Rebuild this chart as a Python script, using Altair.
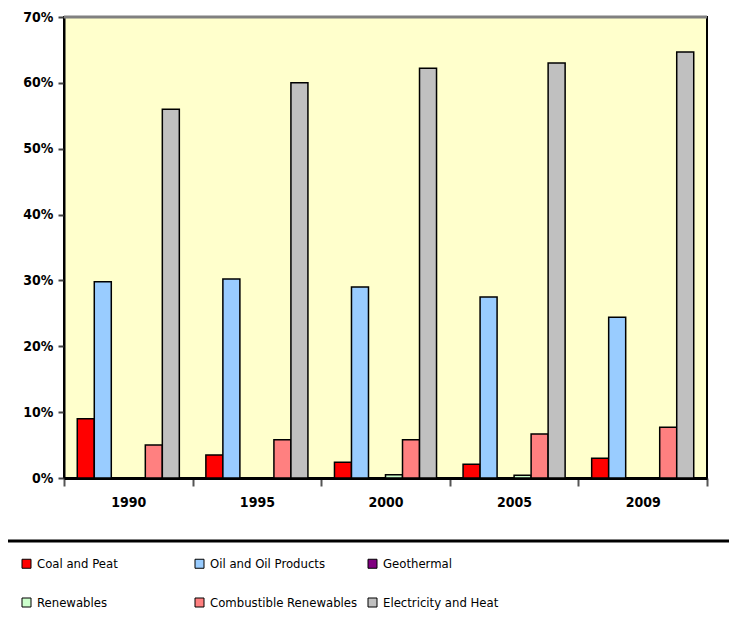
import altair as alt
import pandas as pd

years = ["1990", "1995", "2000", "2005", "2009"]
categories = ["Coal and Peat", "Oil and Oil Products", "Geothermal",
              "Renewables", "Combustible Renewables", "Electricity and Heat"]
coal = [9.0, 3.5, 2.4, 2.1, 3.0]
oil = [29.8, 30.2, 29.0, 27.5, 24.4]
geothermal = [0.0, 0.0, 0.0, 0.0, 0.0]
renewables = [0.0, 0.0, 0.5, 0.4, 0.0]
combustible = [5.0, 5.8, 5.8, 6.7, 7.7]
electricity = [56.0, 60.0, 62.2, 63.0, 64.7]
colors = ["#FF0000", "#99CCFF", "#800080", "#CCFFCC", "#FF8080", "#C0C0C0"]

series = [coal, oil, geothermal, renewables, combustible, electricity]
rows = []
for cat, vals in zip(categories, series):
    for y, v in zip(years, vals):
        rows.append({"year": y, "category": cat, "value": v / 100.0})
df = pd.DataFrame(rows)

# legend fills column by column (2 rows): reorder so rows read as in the original
legend_order = [0, 3, 1, 4, 2, 5]
leg_domain = [categories[i] for i in legend_order]
leg_range = [colors[i] for i in legend_order]

W, H = 643, 461
FONT = "DejaVu Sans Condensed, DejaVu Sans, sans-serif"

bars = alt.Chart(df).mark_bar(stroke="black", strokeWidth=1.5).encode(
    x=alt.X("year:N", sort=years,
            scale=alt.Scale(paddingInner=0, paddingOuter=0),
            axis=alt.Axis(title=None, labelAngle=0, tickBand="extent",
                          domainColor="black", domainWidth=3,
                          tickColor="#555555", tickWidth=2, tickSize=8,
                          labelFont=FONT, labelFontSize=14, labelFontWeight="bold",
                          labelColor="black", labelPadding=9)),
    xOffset=alt.XOffset("category:N", sort=categories,
                        scale=alt.Scale(paddingInner=0, paddingOuter=0.78)),
    y=alt.Y("value:Q",
            scale=alt.Scale(domain=[0, 0.7], nice=False),
            axis=alt.Axis(title=None, format=".0%", values=[0, 0.1, 0.2, 0.3, 0.4, 0.5, 0.6, 0.7],
                          grid=False, domainColor="black", domainWidth=2,
                          tickColor="#444444", tickWidth=2, tickSize=6,
                          labelFont=FONT, labelFontSize=14, labelFontWeight="bold",
                          labelColor="black", labelPadding=5)),
    color=alt.Color("category:N",
                    scale=alt.Scale(domain=leg_domain, range=leg_range),
                    legend=alt.Legend(title=None, orient="none", legendX=-44, legendY=540,
                                      columns=3, gridAlign="all", columnPadding=8,
                                      rowPadding=25, symbolType="square", symbolSize=81,
                                      symbolStrokeColor="black", symbolStrokeWidth=1,
                                      labelFont=FONT, labelFontSize=13, labelColor="black",
                                      labelOffset=4, padding=0, labelLimit=300)),
)

top_border = alt.Chart(pd.DataFrame({"k": [0]})).mark_rule(color="#808080", strokeWidth=3).encode(
    x=alt.value(0), x2=alt.value(W), y=alt.value(0))
legend_top = alt.Chart(pd.DataFrame({"k": [0]})).mark_rule(color="black", strokeWidth=3).encode(
    x=alt.value(-59), x2=alt.value(700), y=alt.value(524))
legend_left = alt.Chart(pd.DataFrame({"k": [0]})).mark_rule(color="#999999", strokeWidth=2).encode(
    x=alt.value(-59), y=alt.value(524), y2=alt.value(620))

chart = alt.layer(bars, top_border, legend_top, legend_left).properties(
    width=W, height=H,
    autosize=alt.AutoSizeParams(type="none"),
    padding={"left": 56, "top": 9, "right": 22, "bottom": 133},
    background="white",
).configure_view(
    fill="#FFFFCC", stroke="black", strokeWidth=2
)

chart.save("out.html", embed_options={"renderer": "svg", "actions": False})
